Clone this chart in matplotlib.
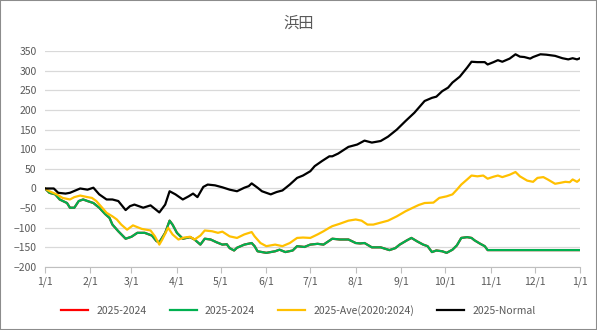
import matplotlib.pyplot as plt
from matplotlib.patches import Rectangle

plt.rcParams['font.family'] = ['Noto Sans CJK JP', 'DejaVu Sans']

# day of year (0 = 1/1) and value
normal_day = [0, 6, 9, 14, 17, 24, 29, 33, 37, 42, 46, 50, 55, 58, 61, 67, 72, 78, 82, 85, 89,
              94, 98, 101, 104, 108, 111, 116, 121, 126, 131, 136, 139, 141, 145, 148, 154, 158,
              162, 167, 172, 176, 181, 184, 189, 194, 196, 200, 207, 213, 218, 223, 229, 234,
              240, 246, 252, 259, 264, 267, 271, 275, 278, 283, 288, 291, 295, 300, 302, 306,
              309, 312, 317, 321, 324, 327, 331, 333, 338, 342, 348, 353, 357, 360, 363, 365]
normal_val = [0, 0, -11, -13, -11, 0, -3, 2, -15, -28, -28, -32, -55, -45, -41, -49, -43, -61,
              -41, -7, -15, -28, -20, -13, -22, 4, 10, 8, 3, -3, -7, 2, 6, 13, 2, -7, -15, -9,
              -5, 10, 27, 33, 44, 57, 70, 82, 82, 89, 106, 112, 122, 117, 121, 132, 150, 172,
              193, 223, 231, 234, 248, 257, 270, 285, 308, 323, 322, 322, 316, 322, 327, 323,
              331, 342, 336, 335, 331, 335, 342, 341, 338, 332, 329, 332, 329, 332]

ave_day = [0, 3, 8, 12, 17, 20, 24, 29, 32, 35, 39, 42, 46, 49, 52, 56, 60, 64, 66, 72, 75, 78,
           80, 84, 87, 91, 95, 99, 102, 106, 109, 114, 118, 121, 126, 131, 136, 141, 143, 147,
           151, 157, 162, 167, 172, 176, 181, 186, 190, 194, 196, 201, 207, 212, 216, 220, 224,
           228, 234, 240, 246, 251, 255, 259, 265, 269, 274, 278, 281, 284, 288, 291, 295, 299,
           302, 306, 309, 312, 317, 321, 324, 329, 333, 336, 340, 343, 348, 351, 355, 358, 360,
           363, 365]
ave_val = [0, -7, -15, -24, -28, -22, -18, -22, -24, -32, -49, -62, -71, -79, -92, -105, -94,
           -100, -103, -107, -122, -143, -130, -100, -117, -130, -125, -123, -130, -120, -107,
           -109, -113, -110, -122, -126, -117, -111, -122, -139, -147, -143, -147, -139, -126,
           -125, -126, -117, -109, -100, -96, -90, -82, -79, -82, -92, -92, -88, -82, -71, -58,
           -49, -42, -37, -36, -24, -20, -15, -3, 10, 23, 33, 31, 33, 25, 30, 33, 29, 35, 42, 31,
           20, 17, 27, 29, 23, 12, 14, 17, 16, 23, 17, 23]

diff_day = [0, 3, 7, 10, 15, 17, 20, 23, 26, 29, 33, 37, 41, 44, 46, 50, 55, 59, 63, 68, 73, 76,
            78, 82, 85, 87, 90, 94, 99, 102, 106, 109, 113, 117, 121, 124, 126, 129, 131, 136,
            141, 143, 145, 151, 157, 160, 164, 169, 172, 177, 181, 186, 190, 192, 196, 201, 207,
            212, 215, 218, 223, 229, 235, 239, 242, 247, 250, 254, 258, 261, 264, 267, 271, 274,
            278, 281, 284, 288, 291, 293, 297, 300, 302, 365]
diff_val = [0, -11, -15, -28, -37, -49, -49, -32, -28, -32, -37, -49, -65, -75, -92, -109, -128,
            -123, -113, -113, -120, -134, -137, -113, -82, -92, -113, -128, -124, -130, -143,
            -128, -130, -137, -143, -142, -152, -158, -151, -143, -139, -147, -160, -164, -160,
            -156, -162, -158, -147, -149, -143, -141, -143, -138, -128, -130, -130, -139, -140,
            -139, -150, -150, -157, -152, -143, -132, -126, -135, -143, -147, -162, -158, -160,
            -164, -156, -145, -126, -124, -126, -132, -141, -147, -157, -157]

month_days = [0, 31, 59, 90, 120, 151, 181, 212, 243, 273, 304, 334, 365]
month_labels = ['1/1', '2/1', '3/1', '4/1', '5/1', '6/1', '7/1', '8/1', '9/1', '10/1', '11/1', '12/1', '1/1']

fig = plt.figure(figsize=(5.97, 3.30), dpi=100)
ax = fig.add_axes([0.0754, 0.191, 0.8961, 0.654])

ax.plot(diff_day, diff_val, color='#FF0000', lw=1.6, label='2025-2024')
ax.plot(diff_day, diff_val, color='#00B050', lw=1.6, label='2025-2024')
ax.plot(ave_day, ave_val, color='#FFC000', lw=1.6, label='2025-Ave(2020:2024)')
ax.plot(normal_day, normal_val, color='#000000', lw=1.6, label='2025-Normal')

ax.set_xlim(0, 365)
ax.set_ylim(-200, 350)
ax.set_yticks(range(-200, 351, 50))
ax.set_xticks(month_days)
ax.set_xticklabels(month_labels)
ax.grid(axis='y', color='#d9d9d9', lw=0.9)
ax.set_axisbelow(True)
for s in ['top', 'right', 'left']:
    ax.spines[s].set_visible(False)
ax.spines['bottom'].set_color('#bfbfbf')
ax.tick_params(axis='y', length=0, labelsize=7.5, labelcolor='#595959', pad=6)
ax.tick_params(axis='x', length=4, color='#bfbfbf', labelsize=7.5, labelcolor='#595959', pad=3)

fig.text(0.5, 0.93, '浜田', ha='center', va='center', fontsize=11, color='#595959')

fig.legend(loc='center', bbox_to_anchor=(0.5, 0.06), ncol=4, frameon=False, fontsize=7.5,
           handlelength=2.6, columnspacing=2.2, labelcolor='#595959')

fig.patches.append(Rectangle((0, 0), 1, 1, transform=fig.transFigure, fill=False,
                             edgecolor='#8c8c8c', lw=1.5))

fig.savefig('out.png', dpi=100)
